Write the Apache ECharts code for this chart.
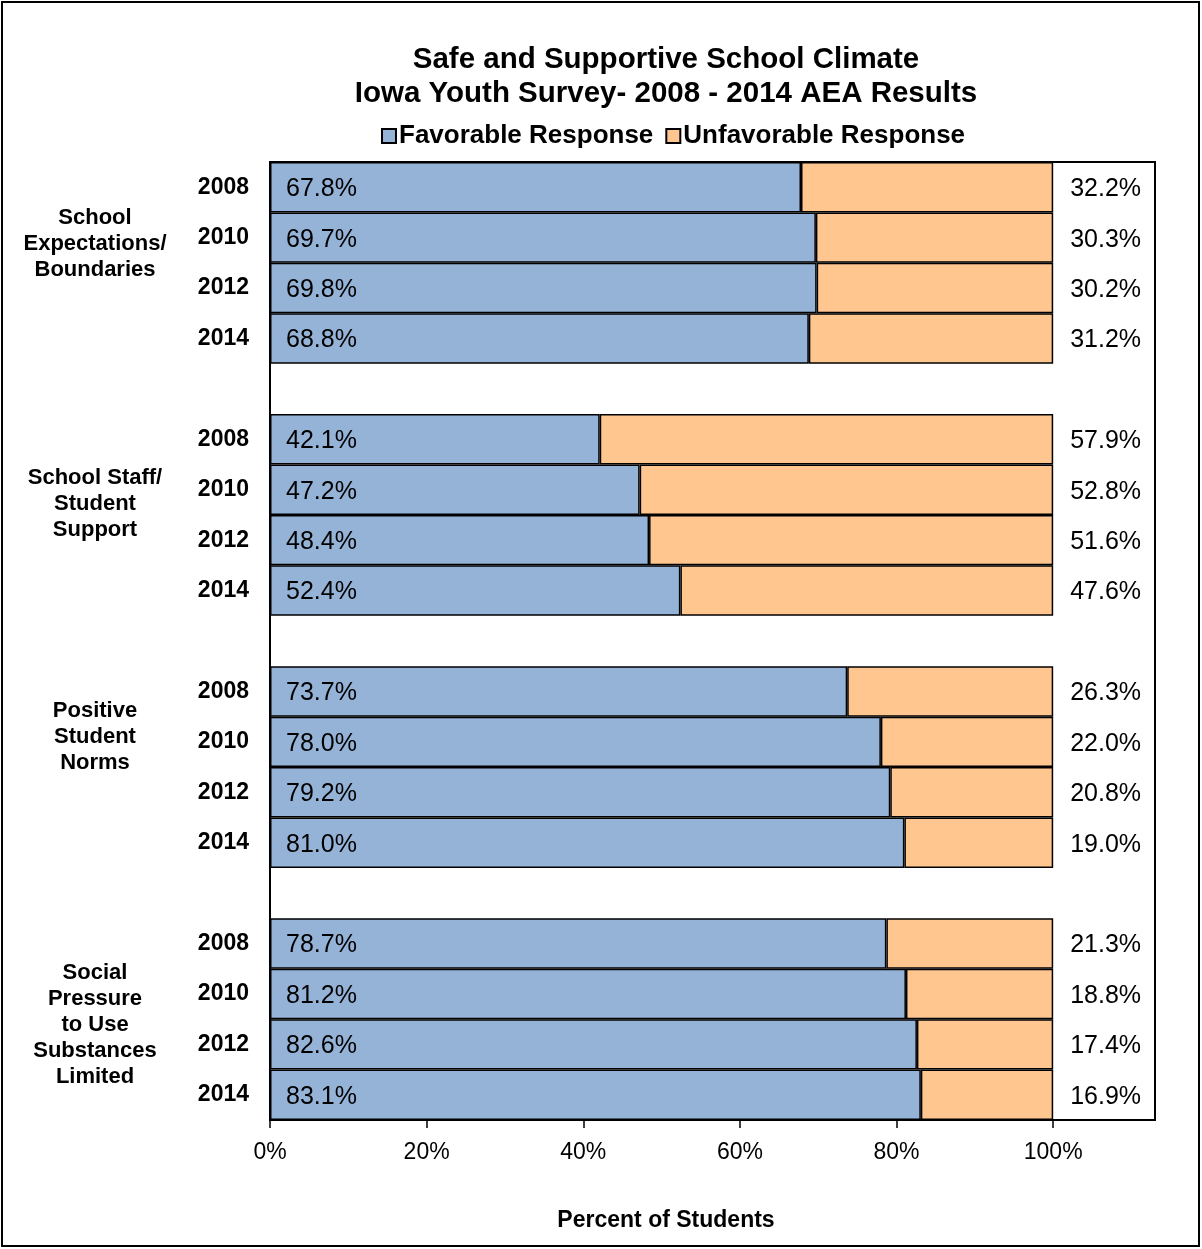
<!DOCTYPE html>
<html>
<head>
<meta charset="utf-8">
<script src="https://cdn.jsdelivr.net/npm/echarts@6/dist/echarts.min.js"></script>
<style>
html,body{margin:0;padding:0;background:#fff;}
#chart{width:1202px;height:1249px;}
</style>
</head>
<body>
<div id="chart"></div>
<script>
// ---- Data ----
var groups = ['School\nExpectations/\nBoundaries', 'School Staff/\nStudent\nSupport', 'Positive\nStudent\nNorms', 'Social\nPressure\nto Use\nSubstances\nLimited'];
var years = ['2008', '2010', '2012', '2014'];
var favorable = [67.8, 69.7, 69.8, 68.8, 42.1, 47.2, 48.4, 52.4, 73.7, 78.0, 79.2, 81.0, 78.7, 81.2, 82.6, 83.1];
var unfavorable = [32.2, 30.3, 30.2, 31.2, 57.9, 52.8, 51.6, 47.6, 26.3, 22.0, 20.8, 19.0, 21.3, 18.8, 17.4, 16.9];
var xTicks = [0, 20, 40, 60, 80, 100];

// Build category rows with a blank row between groups
var cats = [], fav = [], unf = [], groupRows = [];
for (var g = 0; g < groups.length; g++) {
  if (g > 0) { cats.push(''); fav.push('-'); unf.push('-'); }
  groupRows.push(cats.length);
  for (var y = 0; y < years.length; y++) {
    cats.push(years[y]);
    fav.push(favorable[g * 4 + y]);
    unf.push(unfavorable[g * 4 + y]);
  }
}

var FONT = 'Arial, "Liberation Sans", sans-serif';
var chart = echarts.init(document.getElementById('chart'));
var pct = function (p) { return p.value.toFixed(1) + '%'; };

var option = {
  backgroundColor: '#fff',
  animation: false,
  title: {
    text: 'Safe and Supportive School Climate\nIowa Youth Survey- 2008 - 2014 AEA Results',
    left: 661, top: 38, textAlign: 'center',
    textStyle: { fontFamily: FONT, fontSize: 29.5, fontWeight: 'bold', color: '#000', lineHeight: 34 }
  },
  legend: {
    left: 376, top: 118,
    icon: 'rect', itemWidth: 14, itemHeight: 14, itemGap: 12,
    textStyle: { fontFamily: FONT, fontSize: 26, fontWeight: 'bold', color: '#000', padding: [0, 0, 0, -2] },
    data: ['Favorable Response', 'Unfavorable Response']
  },
  grid: { left: 270, right: 47, top: 162, bottom: 129, show: true, borderColor: '#000', borderWidth: 2, backgroundColor: 'transparent' },
  xAxis: {
    type: 'value', min: 0, max: 113, interval: 20,
    splitLine: { show: false },
    axisLine: { show: true, lineStyle: { color: '#000', width: 2 } },
    axisTick: { show: true, length: 8, lineStyle: { color: '#000', width: 1.5 }, customValues: xTicks },
    axisLabel: { fontFamily: FONT, fontSize: 23, color: '#000', margin: 21, customValues: xTicks, formatter: function (v) { return v + '%'; } }
  },
  yAxis: {
    type: 'category', inverse: true, data: cats,
    axisLine: { show: true, lineStyle: { color: '#000', width: 2 } },
    axisTick: { show: false },
    axisLabel: { fontFamily: FONT, fontSize: 23, fontWeight: 'bold', color: '#000', margin: 21 }
  },
  series: [
    {
      name: 'Favorable Response', type: 'bar', stack: 'all', data: fav, barCategoryGap: '0%',
      itemStyle: { color: '#95B3D7', borderColor: '#000', borderWidth: 1.5 },
      label: { show: true, position: 'insideLeft', distance: 16, offset: [0, 2], formatter: pct, fontFamily: FONT, fontSize: 25, color: '#000' }
    },
    {
      name: 'Unfavorable Response', type: 'bar', stack: 'all', data: unf, barCategoryGap: '0%',
      itemStyle: { color: '#FFC690', borderColor: '#000', borderWidth: 1.5 },
      label: { show: true, position: 'right', distance: 17, offset: [0, 2], formatter: pct, fontFamily: FONT, fontSize: 25, color: '#000' }
    }
  ]
};
chart.setOption(option);

// group labels + axis name + outer frame
var labelTops = [205, 465, 698, 960];
var gfx = [
  { type: 'rect', shape: { x: 2, y: 2, width: 1197, height: 1244 }, style: { fill: 'none', stroke: '#000', lineWidth: 2 }, z: 100 },
  { type: 'text', x: 666, y: 1221, style: { text: 'Percent of Students', font: 'bold 23px ' + FONT, fill: '#000', textAlign: 'center', textVerticalAlign: 'middle' } }
];
for (var i = 0; i < groups.length; i++) {
  gfx.push({ type: 'text', x: 95, y: labelTops[i], style: { text: groups[i], font: 'bold 22px ' + FONT, fill: '#000', textAlign: 'center', textVerticalAlign: 'top', lineHeight: 26 } });
}
chart.setOption({ graphic: gfx });
</script>
</body>
</html>
